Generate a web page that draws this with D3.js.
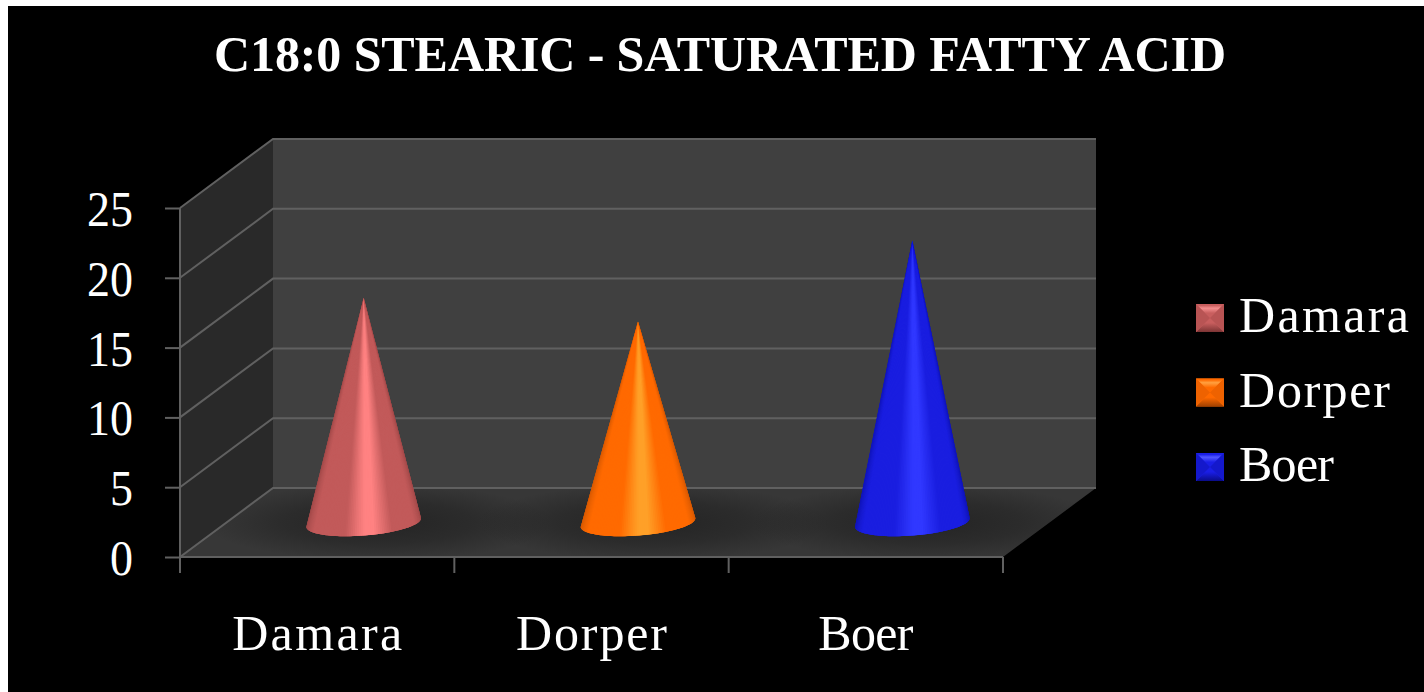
<!DOCTYPE html>
<html>
<head>
<meta charset="utf-8">
<script src="https://cdn.jsdelivr.net/npm/d3@7/dist/d3.min.js"></script>
<style>
html,body{margin:0;padding:0;background:#fff;}
svg{display:block;}
text{font-family:"Liberation Serif",serif;fill:#fff;}
</style>
</head>
<body>
<svg id="chart" width="1424" height="692"></svg>
<script>
// Stearic acid share by goat breed
const categories = ["Damara", "Dorper", "Boer"];
const values = [16.1, 14.4, 20.2];
const yTicks = [0, 5, 10, 15, 20, 25];
const title = "C18:0 STEARIC - SATURATED FATTY ACID";

// Rendered widths of the breed labels
const labelWidths = [170, 151, 95];

// Cone shading ramps: rim, body, highlight
const ramps = [
  ["#9c4646", "#c25a5a", "#ff8282"],
  ["#cf5600", "#ff6a00", "#ffa028"],
  ["#0e12b0", "#1a1ee0", "#3038ff"]
];
// Swatch bevels: top light, side, centre, bottom dark
const bevels = [
  ["#f48e8e", "#b85454", "#c85e5e", "#7c3434"],
  ["#ffa040", "#ee6200", "#ff6a00", "#a04000"],
  ["#5056ff", "#1418cc", "#1a1ee6", "#0a0c88"]
];

const svg = d3.select("#chart");
svg.append("rect").attr("x", 8).attr("y", 6).attr("width", 1416).attr("height", 686).attr("fill", "#000");

const x = d3.scaleBand().domain(categories).range([180, 1003]);
const y = d3.scaleLinear().domain([0, 25]).range([557, 208]);

// Oblique depth offset of the 3D box
const depthX = 93, depthY = -69;
const y0 = y(0), yTop = y(25), xL = x.range()[0], xR = x.range()[1];
const gridColor = "#606060", gridWidth = 2;
const floorPath = `M${xL},${y0}L${xL + depthX},${y0 + depthY}L${xR + depthX},${y0 + depthY}L${xR},${y0}Z`;

const defs = svg.append("defs");
defs.append("clipPath").attr("id", "floorClip").append("path").attr("d", floorPath);
const pool = defs.append("radialGradient").attr("id", "pool");
pool.append("stop").attr("offset", 0).attr("stop-color", "#242424").attr("stop-opacity", 1);
pool.append("stop").attr("offset", 0.55).attr("stop-color", "#242424").attr("stop-opacity", 0.6);
pool.append("stop").attr("offset", 1).attr("stop-color", "#242424").attr("stop-opacity", 0);

// Walls and floor
svg.append("path").attr("fill", "#404040")
  .attr("d", `M${xL + depthX},${yTop + depthY}H${xR + depthX}V${y0 + depthY}H${xL + depthX}Z`);
svg.append("path").attr("fill", "#292929")
  .attr("d", `M${xL},${yTop}L${xL + depthX},${yTop + depthY}V${y0 + depthY}L${xL},${y0}Z`);
svg.append("path").attr("fill", "#373737").attr("d", floorPath);

// Soft shadow pooled on the floor around each cone
const coneX = d => x(d) + x.bandwidth() / 2 + depthX / 2;
const coneY = y0 + depthY / 2;
svg.append("g").attr("clip-path", "url(#floorClip)")
  .selectAll("ellipse").data(categories).join("ellipse")
  .attr("cx", d => coneX(d) + 15)
  .attr("cy", coneY)
  .attr("rx", 175).attr("ry", 38)
  .attr("fill", "url(#pool)");

// Gridlines run along the side wall and back wall
svg.append("g").attr("fill", "none").attr("stroke", gridColor).attr("stroke-width", gridWidth)
  .selectAll("path").data(yTicks).join("path")
  .attr("d", d => `M${xL},${y(d)}L${xL + depthX},${y(d) + depthY}H${xR + depthX}`);

// Value axis
const yAxis = svg.append("g").attr("transform", `translate(${xL},0)`)
  .call(d3.axisLeft(y).tickValues(yTicks).tickSize(15).tickPadding(32));
yAxis.select(".domain").remove();
yAxis.selectAll(".tick line").attr("stroke", gridColor).attr("stroke-width", gridWidth);
yAxis.selectAll("text").attr("font-family", '"Liberation Serif",serif').attr("font-size", 50).attr("fill", "#fff")
  .attr("dy", "0.35em").attr("textLength", d => String(d).length * 23).attr("lengthAdjust", "spacingAndGlyphs");

// Category axis with ticks on the band edges
svg.append("g").attr("stroke", gridColor).attr("stroke-width", gridWidth)
  .selectAll("line").data(d3.range(categories.length + 1)).join("line")
  .attr("x1", i => xL + i * x.step()).attr("x2", i => xL + i * x.step())
  .attr("y1", y0).attr("y2", y0 + 16);
svg.append("path").attr("fill", "none").attr("stroke", gridColor).attr("stroke-width", gridWidth)
  .attr("d", `M${xL},${yTop}V${y0 + 16}M${xL},${y0}H${xR}`);
const xAxis = svg.append("g").attr("transform", `translate(0,${y0})`)
  .call(d3.axisBottom(x).tickSize(0).tickPadding(57.5));
xAxis.select(".domain").remove();
xAxis.selectAll("text").attr("font-family", '"Liberation Serif",serif').attr("font-size", 50).attr("fill", "#fff")
  .attr("dy", "0.71em").attr("textLength", (d, i) => labelWidths[i]);

// Cones: each sits mid-depth, shaded with thin wedges from apex to base rim
const rx = 57.5, ry = 13, tilt = -4.5 * Math.PI / 180;
const rim = t => {
  const a = t * Math.PI, ex = -rx * Math.cos(a), ey = ry * Math.sin(a);
  return [ex * Math.cos(tilt) - ey * Math.sin(tilt), ex * Math.sin(tilt) + ey * Math.cos(tilt)];
};
const steps = d3.range(0, 91);
const shade = ramp => d3.scaleLinear()
  .domain([0, 0.16, 0.39, 0.47, 0.5, 0.55, 0.66, 0.84, 1])
  .range([ramp[0], ramp[1], ramp[1], d3.interpolateRgb(ramp[1], ramp[2])(0.75), ramp[2], ramp[2], ramp[1], ramp[1], ramp[0]]);

const cones = svg.append("g").selectAll("g").data(categories).join("g")
  .attr("transform", d => `translate(${coneX(d)},${coneY})`);
cones.each(function (d, i) {
  const g = d3.select(this), colour = shade(ramps[i]);
  const apex = y(values[i]) - y(0);
  const line = d3.line();
  g.append("path").attr("class", "cone").attr("fill", ramps[i][1])
    .attr("d", line([[0, apex], ...steps.map(s => rim(s / 90))]) + "Z");
  // Wedges overlap the next one so no seams show between them
  g.selectAll("path.wedge").data(steps.slice(0, -1)).join("path").attr("class", "wedge")
    .attr("fill", s => colour((s + 0.5) / 90))
    .attr("d", s => line([[0, apex], rim(s / 90), rim(Math.min(s + 2, 90) / 90)]) + "Z");
});

// Legend with bevelled, pyramid-like swatches
const legendY = d3.scalePoint().domain(categories).range([318, 467]);
const s = 28, h = s / 2;
bevels.forEach((c, i) => {
  const top = defs.append("linearGradient").attr("id", `bevelTop${i}`).attr("x1", 0).attr("y1", 0).attr("x2", 0).attr("y2", 1);
  top.append("stop").attr("offset", 0.1).attr("stop-color", c[2]);
  top.append("stop").attr("offset", 0.3).attr("stop-color", c[0]);
  top.append("stop").attr("offset", 0.65).attr("stop-color", c[2]);
  const bottom = defs.append("linearGradient").attr("id", `bevelBottom${i}`).attr("x1", 0).attr("y1", 0).attr("x2", 0).attr("y2", 1);
  bottom.append("stop").attr("offset", 0.35).attr("stop-color", c[2]);
  bottom.append("stop").attr("offset", 1).attr("stop-color", c[3]);
});
const legend = svg.append("g").selectAll("g").data(categories).join("g")
  .attr("transform", d => `translate(1196,${legendY(d)})`);
legend.each(function (d, i) {
  const g = d3.select(this), c = bevels[i];
  g.append("rect").attr("y", -h).attr("width", s).attr("height", s).attr("fill", c[2]);
  g.append("path").attr("fill", `url(#bevelTop${i})`).attr("d", `M0,${-h}H${s}L${h},0Z`);
  g.append("path").attr("fill", `url(#bevelBottom${i})`).attr("d", `M0,${h}H${s}L${h},0Z`);
  g.append("path").attr("fill", c[1]).attr("d", `M0,${-h}L${h},0L0,${h}Z`);
  g.append("path").attr("fill", c[1]).attr("d", `M${s},${-h}L${h},0L${s},${h}Z`);
  g.append("text").attr("x", 43).attr("y", 14).attr("font-size", 50)
    .attr("textLength", labelWidths[i]).text(d);
});

// Title
svg.append("text").attr("x", 720).attr("y", 71).attr("text-anchor", "middle")
  .attr("font-size", 50).attr("font-weight", "bold").attr("textLength", 1012).text(title);
</script>
</body>
</html>
